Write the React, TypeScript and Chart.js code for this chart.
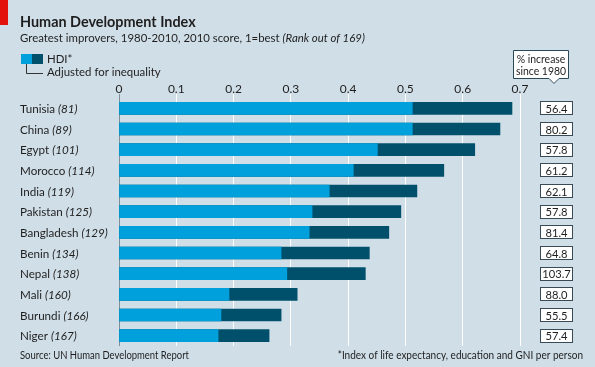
import React, { useEffect, useRef } from "react";
import { Chart, registerables } from "chart.js";

Chart.register(...registerables);

const countries = ["Tunisia", "China", "Egypt", "Morocco", "India", "Pakistan", "Bangladesh", "Benin", "Nepal", "Mali", "Burundi", "Niger"];
const ranks = ["(81)", "(89)", "(101)", "(114)", "(119)", "(125)", "(129)", "(134)", "(138)", "(160)", "(166)", "(167)"];
const hdi2010 = [0.686, 0.665, 0.621, 0.567, 0.520, 0.492, 0.471, 0.437, 0.430, 0.311, 0.283, 0.262];
const adjustedForInequality = [0.512, 0.512, 0.451, 0.409, 0.367, 0.337, 0.332, 0.283, 0.293, 0.192, 0.178, 0.173];
const increaseSince1980 = ["56.4", "80.2", "57.8", "61.2", "62.1", "57.8", "81.4", "64.8", "103.7", "88.0", "55.5", "57.4"];
const xTicks = [0, 0.1, 0.2, 0.3, 0.4, 0.5, 0.6, 0.7];

const BG = "#d0dee7";
const LIGHT = "#00a0dc";
const DARK = "#00506c";
const TEXT = "#1e1e1e";
const FONT = "Lato";

function drawText(ctx: CanvasRenderingContext2D, text: string, x: number, y: number, font: string, sx = 1) {
  ctx.save();
  ctx.font = font;
  ctx.translate(x, y);
  ctx.scale(sx, 1);
  ctx.fillText(text, 0, 0);
  const w = ctx.measureText(text).width * sx;
  ctx.restore();
  return w;
}

const decorPlugin = {
  id: "decor",
  beforeDraw(chart: any) {
    const ctx = chart.ctx as CanvasRenderingContext2D;
    ctx.save();
    ctx.fillStyle = BG;
    ctx.fillRect(0, 0, chart.width, chart.height);
    ctx.restore();
  },
  afterDraw(chart: any) {
    const ctx = chart.ctx as CanvasRenderingContext2D;
    const yScale = chart.scales.y;
    ctx.save();
    ctx.textBaseline = "alphabetic";
    ctx.textAlign = "left";
    // red tab
    ctx.fillStyle = "#e3120b";
    ctx.fillRect(0, 0, 8, 25);
    // title
    ctx.fillStyle = TEXT;
    drawText(ctx, "Human Development Index", 20, 27, `bold 16px ${FONT}`, 0.9);
    let w = drawText(ctx, "Greatest improvers, 1980-2010, 2010 score, 1=best ", 20, 42, `12px ${FONT}`, 0.95);
    drawText(ctx, "(Rank out of 169)", 20 + w, 42, `italic 12px ${FONT}`, 0.95);
    // legend
    ctx.fillStyle = LIGHT;
    ctx.fillRect(21, 54, 11, 10);
    ctx.fillStyle = DARK;
    ctx.fillRect(32, 54, 11, 10);
    ctx.strokeStyle = "#333";
    ctx.lineWidth = 1;
    ctx.beginPath();
    ctx.moveTo(26.5, 64);
    ctx.lineTo(26.5, 73.5);
    ctx.lineTo(43, 73.5);
    ctx.stroke();
    ctx.fillStyle = TEXT;
    drawText(ctx, "HDI*", 47, 63, `12px ${FONT}`, 0.95);
    drawText(ctx, "Adjusted for inequality", 47, 76, `12px ${FONT}`, 0.95);
    // callout
    ctx.fillStyle = "#ffffff";
    ctx.strokeStyle = "#2a4a5a";
    ctx.beginPath();
    ctx.moveTo(513.5, 50.5);
    ctx.lineTo(568.5, 50.5);
    ctx.lineTo(568.5, 78.5);
    ctx.lineTo(559, 78.5);
    ctx.lineTo(554, 83.5);
    ctx.lineTo(549, 78.5);
    ctx.lineTo(513.5, 78.5);
    ctx.closePath();
    ctx.fill();
    ctx.stroke();
    ctx.fillStyle = TEXT;
    ctx.textAlign = "center";
    drawText(ctx, "% increase", 541, 63, `11px ${FONT}`, 0.95);
    drawText(ctx, "since 1980", 541, 75, `11px ${FONT}`, 0.95);
    ctx.textAlign = "left";
    // category labels and value boxes
    countries.forEach((c, i) => {
      const y = yScale.getPixelForValue(i);
      ctx.fillStyle = TEXT;
      const cw = drawText(ctx, c + " ", 20, y + 4.5, `12px ${FONT}`, 0.97);
      drawText(ctx, ranks[i], 20 + cw, y + 4.5, `italic 12px ${FONT}`, 0.97);
      ctx.fillStyle = "#ffffff";
      ctx.strokeStyle = "#3a4a55";
      ctx.fillRect(540.5, Math.round(y) - 6.5, 32, 13);
      ctx.strokeRect(540.5, Math.round(y) - 6.5, 32, 13);
      ctx.fillStyle = TEXT;
      ctx.textAlign = "center";
      drawText(ctx, increaseSince1980[i], 556.5, y + 4.5, `11.5px ${FONT}`, 0.97);
      ctx.textAlign = "left";
    });
    // footer
    ctx.fillStyle = TEXT;
    drawText(ctx, "Source: UN Human Development Report", 20, 359, `11px ${FONT}`, 0.86);
    ctx.textAlign = "right";
    drawText(ctx, "*Index of life expectancy, education and GNI per person", 583, 359, `11px ${FONT}`, 0.91);
    ctx.restore();
  },
};

export default function App() {
  const ref = useRef<HTMLCanvasElement | null>(null);
  useEffect(() => {
    document.body.style.margin = "0";
    const canvas = ref.current!;
    const chart = new Chart(canvas, {
      type: "bar",
      data: {
        labels: countries,
        datasets: [
          {
            label: "Adjusted for inequality",
            data: adjustedForInequality,
            backgroundColor: LIGHT,
            borderWidth: 0,
            barThickness: 12,
            grouped: false,
          } as any,
          {
            label: "HDI*",
            data: hdi2010,
            backgroundColor: DARK,
            borderWidth: 0,
            barThickness: 12,
            grouped: false,
          } as any,
        ],
      },
      options: {
        indexAxis: "y",
        animation: false,
        responsive: false,
        devicePixelRatio: 1,
        layout: { padding: { left: 119, right: 75, top: 78, bottom: 21 } },
        plugins: { legend: { display: false }, tooltip: { enabled: false }, title: { display: false } },
        scales: {
          x: {
            type: "linear",
            position: "top",
            min: 0,
            max: 0.7,
            afterBuildTicks: (scale: any) => {
              scale.ticks = xTicks.map((v) => ({ value: v }));
            },
            afterFit: (scale: any) => {
              scale.height = 20;
            },
            ticks: {
              padding: -2,
              color: TEXT,
              font: { family: FONT, size: 12 },
              callback: (v: any) => String(Math.round(Number(v) * 10) / 10),
            },
            grid: {
              color: (c: any) => (c.tick && c.tick.value === 0 ? "#7f8e98" : "#ffffff"),
              lineWidth: 1,
              drawTicks: true,
              tickLength: 4,
            },
            border: { display: false },
          },
          y: {
            type: "category",
            display: false,
            offset: true,
          },
        },
      },
      plugins: [decorPlugin],
    });
    return () => chart.destroy();
  }, []);
  return <canvas ref={ref} width={595} height={367} style={{ display: "block", width: 595, height: 367 }} />;
}
